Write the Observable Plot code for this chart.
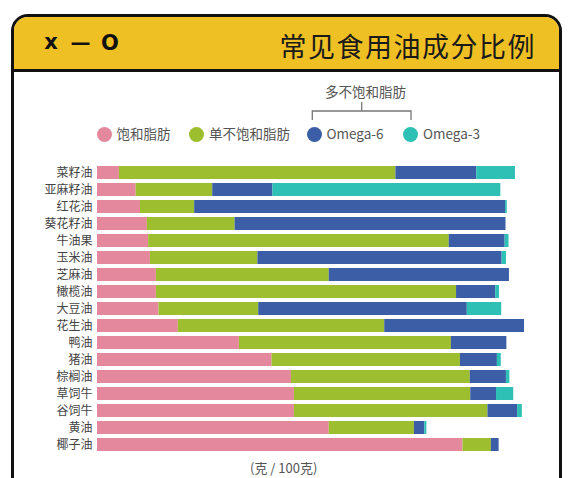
<!DOCTYPE html>
<html>
<head>
<meta charset="utf-8">
<script src="https://cdn.jsdelivr.net/npm/d3@7"></script>
<script src="https://cdn.jsdelivr.net/npm/@observablehq/plot@0.6"></script>
<style>
  html, body { margin: 0; padding: 0; background: #fff; }
  body { width: 572px; height: 478px; overflow: hidden; position: relative; font-family: "Noto Sans CJK SC", "Noto Sans", sans-serif; }
  #frame { position: absolute; left: 11px; top: 14px; width: 545px; height: 520px; border: 3px solid #111; border-radius: 17px 17px 0 0; background: #fff; overflow: hidden; }
  #header { position: absolute; left: 0; top: 0; width: 100%; height: 52px; background: #EFC024; border-bottom: 3px solid #111; }
  #title { position: absolute; right: 36px; top: 30px; height: 32px; line-height: 32px; font-size: 27px; color: #1a1a1a; letter-spacing: 1.5px; white-space: nowrap; }
  .leg { position: absolute; top: 124px; height: 18px; font-size: 13.5px; color: #555; white-space: nowrap; line-height: 18px; }
  .dot { display: inline-block; width: 15px; height: 15px; border-radius: 50%; vertical-align: -3px; margin-right: 5px; }
  #polytitle { position: absolute; left: 325px; top: 82px; height: 18px; line-height: 18px; font-size: 13.5px; color: #555; white-space: nowrap; }
  #unit { position: absolute; left: 250px; top: 460px; height: 16px; line-height: 16px; font-size: 13px; color: #555; white-space: nowrap; }
  #chart { position: absolute; left: 0; top: 150px; }
  #deco { position: absolute; left: 0; top: 0; }
</style>
</head>
<body>
<div id="frame"><div id="header"></div></div>
<svg id="deco" width="572" height="140">
  <g font-family="DejaVu Sans, sans-serif" font-weight="bold" fill="#111" text-anchor="middle" dominant-baseline="central">
    <text x="51" y="42" font-size="21">x</text>
    <text x="80.5" y="42" font-size="20">—</text>
    <text x="110" y="43" font-size="21">O</text>
  </g>
  <path d="M361.7 102 V111 M312.3 120 V111 H411 V120" fill="none" stroke="#777" stroke-width="1.3"/>
</svg>
<div id="title">常见食用油成分比例</div>
<div id="polytitle">多不饱和脂肪</div>
<div id="legend"></div>
<div id="chart"></div>
<div id="unit">(克 / 100克)</div>
<script>
const categories = ["菜籽油","亚麻籽油","红花油","葵花籽油","牛油果","玉米油","芝麻油","橄榄油","大豆油","花生油","鸭油","猪油","棕榈油","草饲牛","谷饲牛","黄油","椰子油"];
const seriesNames = ["饱和脂肪","单不饱和脂肪","Omega-6","Omega-3"];
const seriesColors = ["#E4899D","#9DBE2E","#3B5EA7","#2EC0B4"];
const saturated = [5.1, 9.0, 10.0, 11.6, 11.9, 12.3, 13.7, 13.7, 14.3, 18.8, 33.0, 40.6, 45.1, 45.8, 45.8, 53.9, 85.0];
const monounsat = [64.3, 17.8, 12.6, 20.4, 69.9, 25.0, 40.2, 69.8, 23.2, 48.0, 49.3, 43.8, 41.6, 41.0, 45.0, 19.8, 6.6];
const omega6    = [18.8, 14.0, 72.3, 63.0, 13.0, 56.8, 41.9, 9.1, 48.5, 32.5, 12.9, 8.6, 8.4, 6.0, 6.9, 2.4, 1.8];
const omega3    = [9.0, 53.0, 0.4, 0.0, 0.9, 1.0, 0.0, 0.9, 8.0, 0.0, 0.0, 0.9, 0.8, 4.0, 1.1, 0.5, 0.0];

const seriesValues = [saturated, monounsat, omega6, omega3];
const rows = [];
categories.forEach((c, i) => {
  seriesNames.forEach((s, k) => rows.push({oil: c, type: s, value: seriesValues[k][i]}));
});

// legend
const legend = document.getElementById("legend");
const legX = [96.5, 189, 306.5, 403];
seriesNames.forEach((s, k) => {
  const d = document.createElement("div");
  d.className = "leg";
  d.style.left = legX[k] + "px";
  d.innerHTML = `<span class="dot" style="background:${seriesColors[k]}"></span>${s}`;
  legend.appendChild(d);
});

const chart = Plot.plot({
  width: 572,
  height: 316,
  marginTop: 12.3,
  marginBottom: 10.3,
  marginLeft: 97,
  marginRight: 45,
  style: {background: "transparent", fontFamily: "'Noto Sans CJK SC', sans-serif", fontSize: "12px", color: "#444"},
  x: {domain: [0, 100], axis: null},
  y: {domain: categories, paddingInner: 0.234, paddingOuter: 0, label: null},
  color: {domain: seriesNames, range: seriesColors},
  marks: [
    Plot.barX(rows, Plot.stackX({x: "value", y: "oil", fill: "type", order: seriesNames, inset: 0})),
    Plot.axisY({tickSize: 0, tickPadding: 5, label: null, fontSize: 12, fill: "#444"})
  ]
});
document.getElementById("chart").appendChild(chart);
</script>
</body>
</html>
